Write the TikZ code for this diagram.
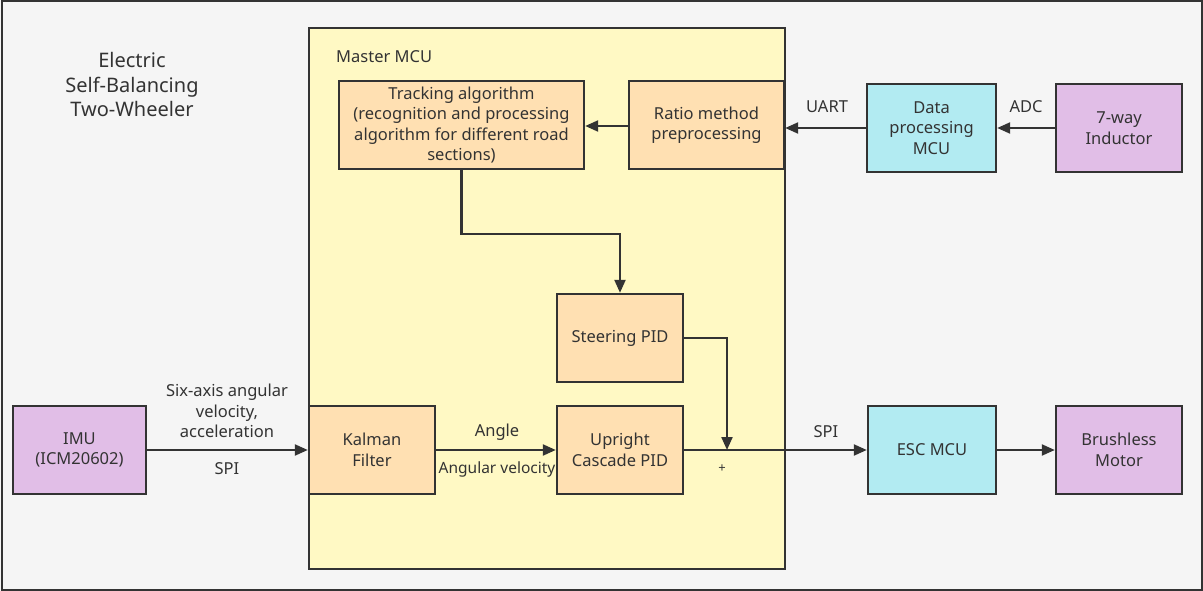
\documentclass[tikz,border=0pt]{standalone}
\usepackage{fontspec}
\setmainfont{Noto Sans}
\usetikzlibrary{arrows.meta}
\definecolor{bgc}{HTML}{F5F5F5}
\definecolor{edge}{HTML}{333333}
\definecolor{masterc}{HTML}{FFF9C4}
\definecolor{orangec}{HTML}{FFE0B2}
\definecolor{purplec}{HTML}{E1BEE7}
\definecolor{cyanc}{HTML}{B2EBF2}
\definecolor{txt}{HTML}{333333}
\tikzset{
  box/.style={draw=edge, line width=2.4pt, minimum height=88pt, align=center, text=txt, inner sep=2pt,
    font=\fontsize{16.5}{20.5}\selectfont},
  obox/.style={box, fill=orangec},
  pbox/.style={box, fill=purplec},
  cbox/.style={box, fill=cyanc},
  lbl/.style={text=txt, align=center, font=\fontsize{16.5}{20.5}\selectfont, inner sep=0pt},
  conn/.style={draw=edge, line width=2.2pt},
  arr/.style={conn, -{Triangle[length=13pt,width=11pt]}}
}
\begin{document}
\begin{tikzpicture}[x=1pt,y=-1pt]
\useasboundingbox (0,0) rectangle (1203,591);
\fill[bgc] (0,0) rectangle (1203,591);
\draw[edge, line width=2pt] (1.5,1.5) rectangle (1201.5,589.5);
\node[draw=edge, fill=masterc, line width=2.4pt, minimum width=476pt, minimum height=541pt, inner sep=0pt] (master) at (547,298.5) {};
\node[lbl, anchor=west] (mlabel) at (336,57) {Master MCU};
\node[lbl, font=\fontsize{20}{24.5}\selectfont] (title) at (132,85) {Electric\\Self-Balancing\\Two-Wheeler};

\node[obox, minimum width=245pt] (track) at (461.5,125) {Tracking algorithm\\(recognition and processing\\algorithm for different road\\sections)};
\node[obox, minimum width=155pt] (ratio) at (706.5,125) {Ratio method\\preprocessing};
\node[obox, minimum width=126pt] (steer) at (620,338) {Steering PID};
\node[obox, minimum width=126pt] (upright) at (620,450) {Upright\\Cascade PID};
\node[obox, minimum width=126pt] (kalman) at (372,450) {Kalman\\Filter};
\node[pbox, minimum width=133pt] (imu) at (79.5,450) {IMU\\(ICM20602)};
\node[cbox, minimum width=128pt] (esc) at (932,450) {ESC MCU};
\node[pbox, minimum width=126pt] (motor) at (1119,450) {Brushless\\Motor};
\node[cbox, minimum width=129pt] (dmcu) at (931.5,128) {Data\\processing\\MCU};
\node[pbox, minimum width=126pt] (ind) at (1119,128) {7-way\\Inductor};

\coordinate (j) at (727,450);
\draw[arr] (ratio.west |- 0,126) -- (track.east |- 0,126);
\draw[arr] (dmcu.west) -- (dmcu.west -| ratio.east);
\draw[arr] (ind.west) -- (dmcu.east);
\draw[arr] (track.south) -- ++(0,64) -| (steer.north);
\draw[arr] (steer.east) -| (j);
\draw[conn] (upright.east) -- (j);
\draw[arr] (j) -- (esc.west);
\draw[arr] (kalman.east) -- (upright.west);
\draw[arr] (imu.east) -- (kalman.west);
\draw[arr] (esc.east) -- (motor.west);

\node[lbl] (l1) at (227,411) {Six-axis angular\\velocity,\\acceleration};
\node[lbl] (l2) at (227,469) {SPI};
\node[lbl] (l3) at (497,432) {Angle};
\node[lbl, font=\fontsize{15.5}{20}\selectfont] (l4) at (497,469) {Angular velocity};
\node[lbl, font=\fontsize{13}{14}\selectfont] (l5) at (722,469) {+};
\node[lbl] (l6) at (826,432) {SPI};
\node[lbl] (l7) at (827,107) {UART};
\node[lbl] (l8) at (1026,107) {ADC};
\end{tikzpicture}
\end{document}
